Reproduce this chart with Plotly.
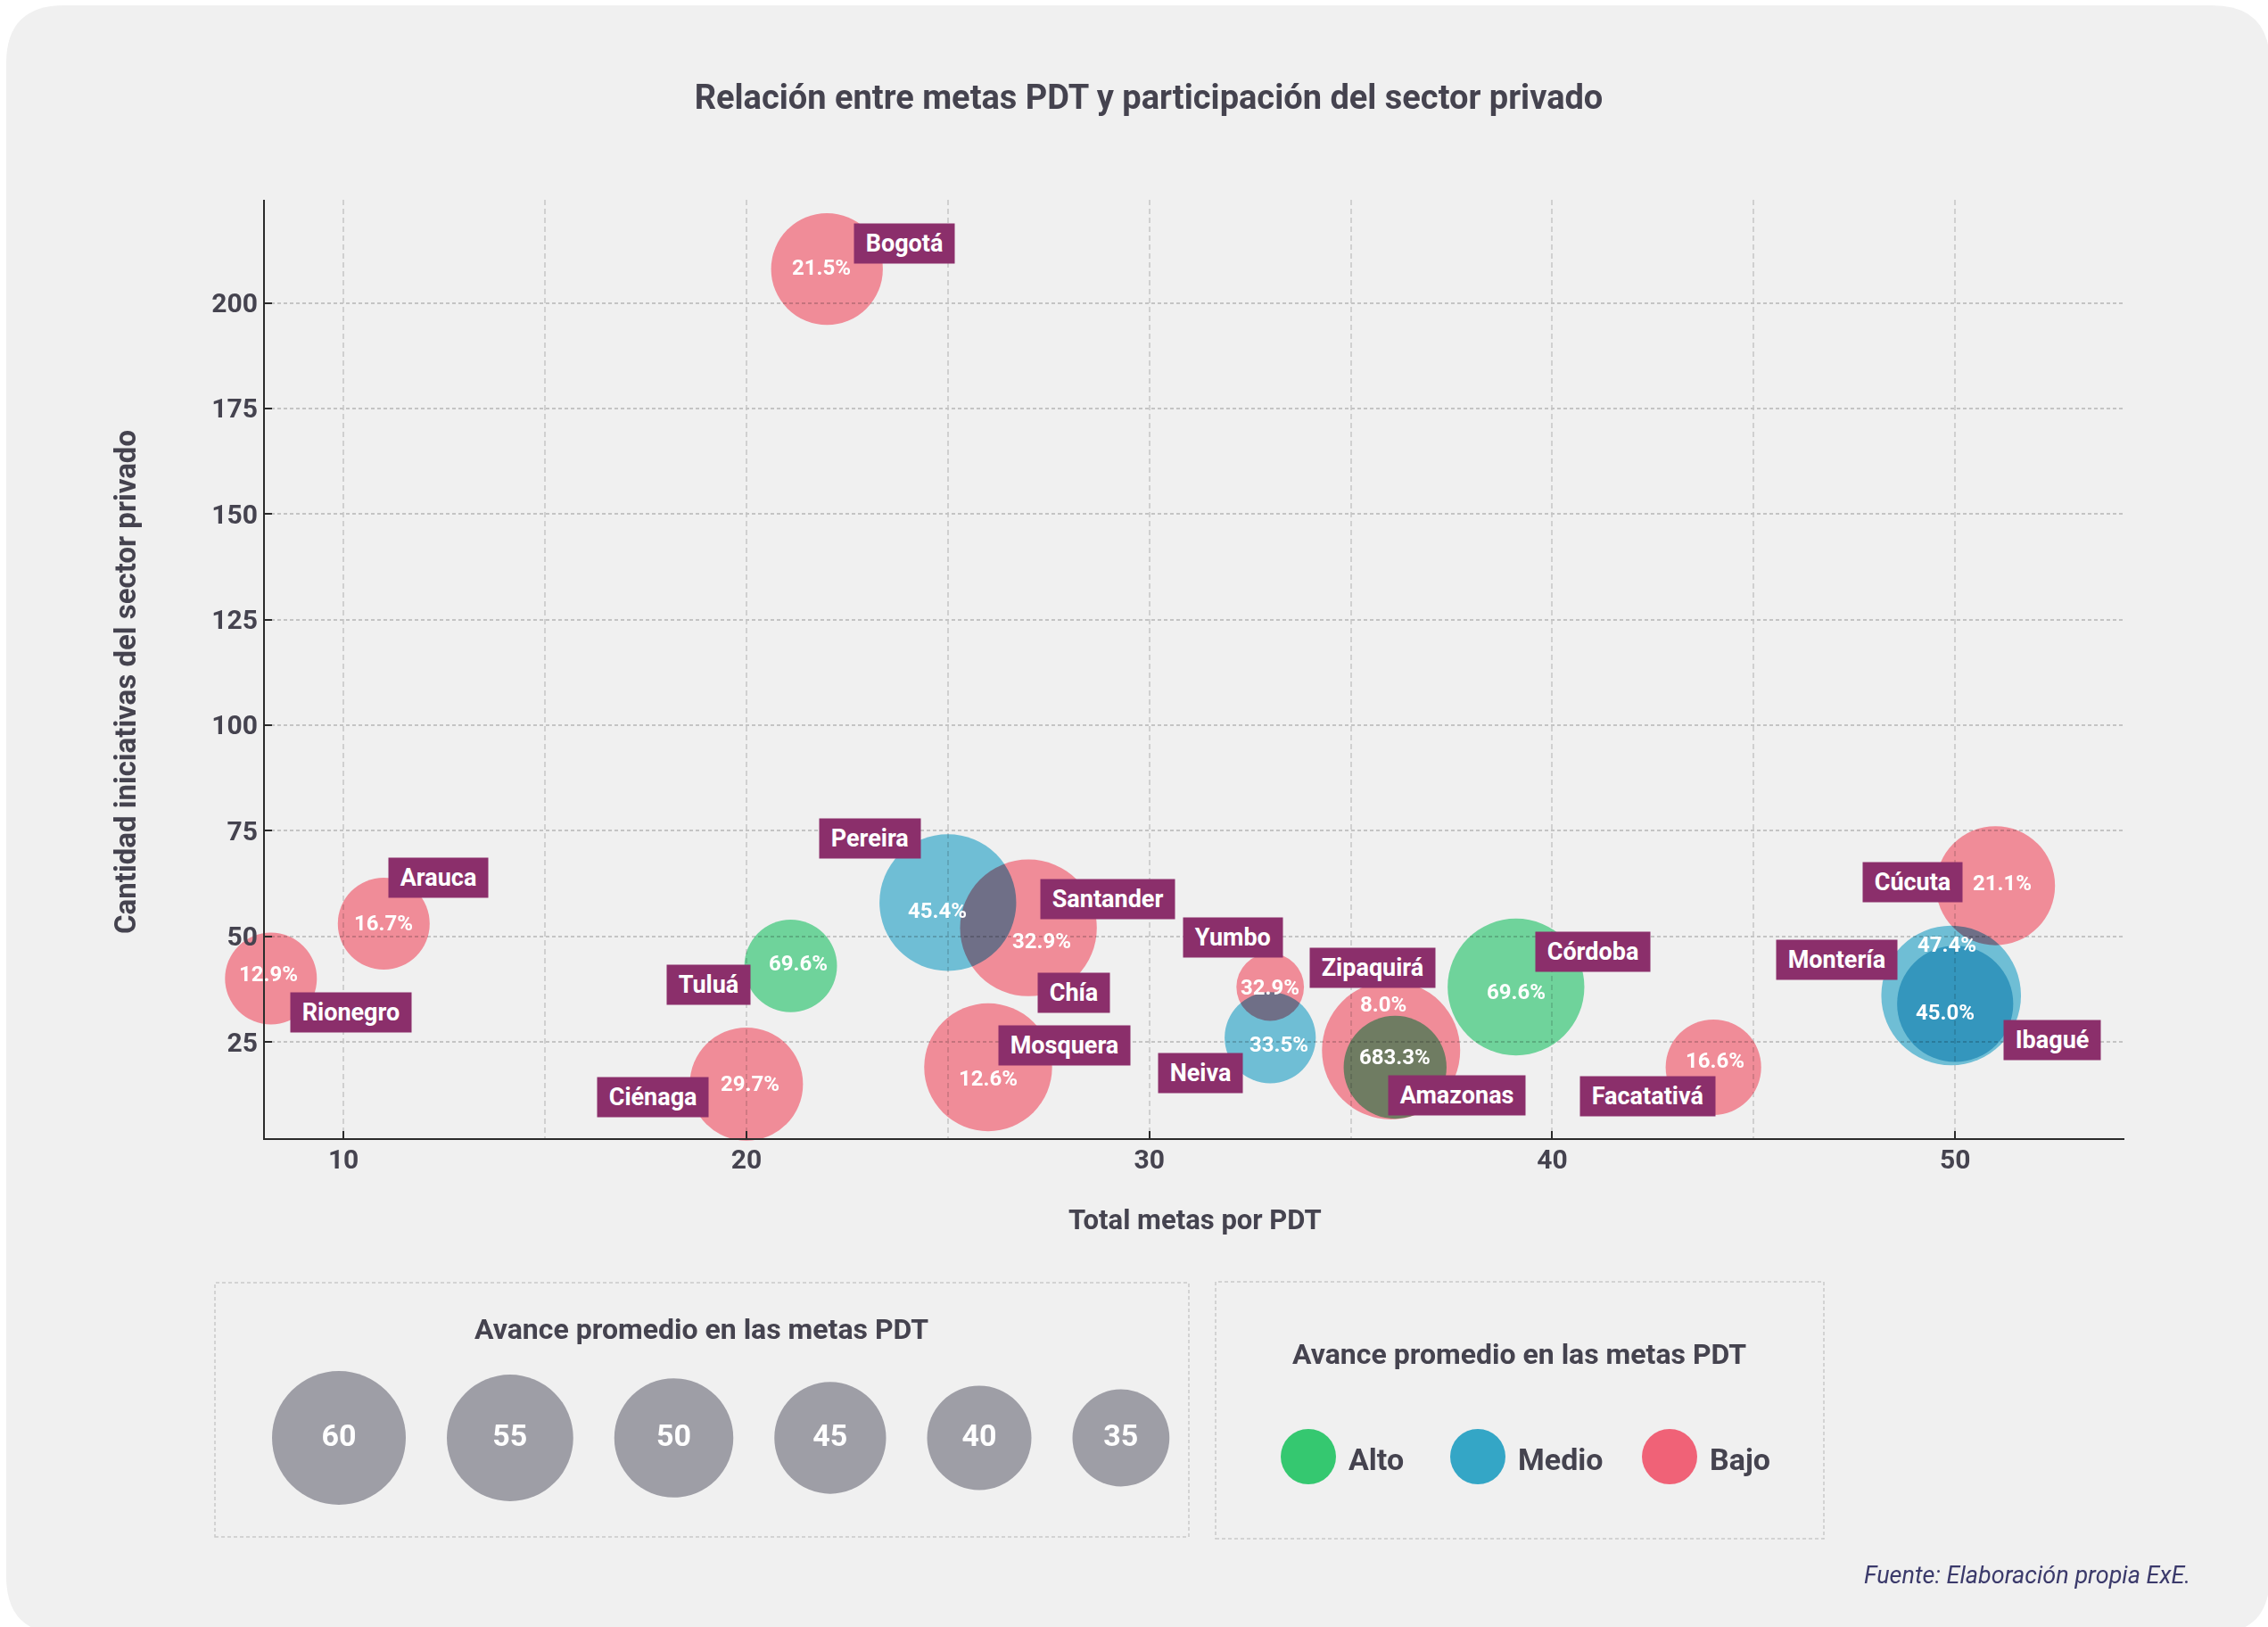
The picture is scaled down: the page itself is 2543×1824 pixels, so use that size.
import plotly.graph_objects as go

W, H = 2543, 1824

# ---------------- data ----------------
ciudades = ["Bogotá", "Arauca", "Rionegro", "Tuluá", "Ciénaga", "Pereira", "Santander", "Chía",
            "Mosquera", "Yumbo", "Neiva", "Zipaquirá", "Amazonas", "Córdoba", "Facatativá",
            "Cúcuta", "Montería", "Ibagué"]
total_metas = [22, 11, 8.2, 21.1, 20, 25, 27, 27, 26, 33, 33, 36, 36.1, 39.1, 44, 51, 49.9, 50]
iniciativas_privado = [208, 53, 40, 43, 15, 58, 52, 52, 19, 38, 26, 23, 19, 38, 19, 62, 36, 34]
porcentaje = [21.5, 16.7, 12.9, 69.6, 29.7, 45.4, 32.9, 32.9, 12.6, 32.9, 33.5, 8.0, 683.3,
              69.6, 16.6, 21.1, 47.4, 45.0]
nivel = ["Bajo", "Bajo", "Bajo", "Alto", "Bajo", "Medio", "Bajo", "Bajo", "Bajo", "Bajo",
         "Medio", "Bajo", "Alto", "Alto", "Bajo", "Bajo", "Medio", "Medio"]
avance_promedio = [45, 31.5, 31.5, 32, 46, 62, 62, 62, 56, 15, 31, 63, 39, 62, 34, 50, 64, 48]

leyenda_avance = [60, 55, 50, 45, 40, 35]
leyenda_niveles = ["Alto", "Medio", "Bajo"]

titulo = "Relación entre metas PDT y participación del sector privado"
titulo_x = "Total metas por PDT"
titulo_y = "Cantidad iniciativas del sector privado"
titulo_leyenda = "Avance promedio en las metas PDT"
fuente = "Fuente: Elaboración propia ExE."

# ---------------- styles / layout ----------------
FONT = "Roboto, Liberation Sans, sans-serif"
TXT = "#45434F"
CARD = "#F0F0F0"
LABEL_BG = "#8B2F6B"
SWATCH = {"Alto": "#35C870", "Medio": "#34A6C6", "Bajo": "#F06277"}
BUBBLE = {"Alto": "rgb(118,225,165)", "Medio": "rgb(118,202,227)", "Bajo": "rgb(255,149,162)"}
LEGEND_GRAY = "#9E9EA6"

PLOT_L, PLOT_R, PLOT_T, PLOT_B = 297, 2382, 224, 1276
X_RANGE = [8.05, 54.2]
Y_RANGE = [2.2, 224.4]


def diam(v):
    return 51 + 1.65 * v


def fx(px):
    return px / W


def fy(py):
    return 1 - py / H


# label offsets (screen px: right, down) relative to bubble centre
LABEL_OFF = {"Bogotá": (87, -29), "Arauca": (61, -51), "Rionegro": (90, 38), "Tuluá": (-92, 21),
             "Ciénaga": (-105, 15), "Pereira": (-87, -72), "Santander": (89, -32), "Chía": (51, 73),
             "Mosquera": (86, -24), "Yumbo": (-42, -56), "Neiva": (-78, 40), "Zipaquirá": (-21, -93),
             "Amazonas": (69, 32), "Córdoba": (86, -40), "Facatativá": (-74, 33), "Cúcuta": (-93, -4),
             "Montería": (-128, -40), "Ibagué": (109, 41)}
PCT_OFF = {"Bogotá": (-6, -2), "Arauca": (0, 0), "Rionegro": (-3, -5), "Tuluá": (8, -3),
           "Ciénaga": (4, 0), "Pereira": (-12, 9), "Santander": (15, 15), "Mosquera": (0, 13),
           "Yumbo": (0, 0), "Neiva": (10, 8), "Zipaquirá": (-9, -52), "Amazonas": (0, -11),
           "Córdoba": (0, 5), "Facatativá": (2, -7), "Cúcuta": (8, -3), "Montería": (-5, -57),
           "Ibagué": (-11, 10)}

# bubbles at identical coordinates are drawn once
seen, idx = set(), []
for i, (xv, yv) in enumerate(zip(total_metas, iniciativas_privado)):
    if (xv, yv) in seen:
        continue
    seen.add((xv, yv))
    idx.append(i)

fig = go.Figure()

fig.add_trace(go.Scatter(
    x=[total_metas[i] for i in idx],
    y=[iniciativas_privado[i] for i in idx],
    mode="markers",
    marker=dict(size=[diam(avance_promedio[i]) for i in idx], sizemode="diameter",
                color=[BUBBLE[nivel[i]] for i in idx], line=dict(width=0), opacity=1),
    cliponaxis=False, hoverinfo="skip", showlegend=False,
))

# size legend
LEG1_LEFT, LEG1_GAP, LEG1_Y = 305, 46, 1612
sizes = [diam(v) for v in leyenda_avance]
xs = []
for k, s in enumerate(sizes):
    if k == 0:
        xs.append(LEG1_LEFT + s / 2)
    else:
        xs.append(xs[-1] + sizes[k - 1] / 2 + LEG1_GAP + s / 2)
fig.add_trace(go.Scatter(
    x=xs, y=[LEG1_Y] * len(xs), xaxis="x2", yaxis="y2", mode="markers+text",
    text=[str(v) for v in leyenda_avance], textposition="middle center",
    textfont=dict(family=FONT, size=34, color="white", weight="bold"),
    marker=dict(size=sizes, sizemode="diameter", color=LEGEND_GRAY, line=dict(width=0), opacity=1),
    cliponaxis=False, hoverinfo="skip", showlegend=False,
))

# colour legend
LEG2_X, LEG2_Y, LEG2_D = [1467, 1657, 1872], 1633, 62
fig.add_trace(go.Scatter(
    x=LEG2_X, y=[LEG2_Y] * 3, xaxis="x2", yaxis="y2", mode="markers",
    marker=dict(size=LEG2_D, color=[SWATCH[n] for n in leyenda_niveles], line=dict(width=0),
                opacity=1),
    cliponaxis=False, hoverinfo="skip", showlegend=False,
))

ann = []
for i in idx:
    dx, dy = PCT_OFF.get(ciudades[i], (0, 0))
    ann.append(dict(x=total_metas[i], y=iniciativas_privado[i], xref="x", yref="y",
                    text=f"{porcentaje[i]:.1f}%", showarrow=False, xshift=dx, yshift=-dy,
                    xanchor="center", yanchor="middle",
                    font=dict(family=FONT, size=24, color="white", weight="bold")))
for i, c in enumerate(ciudades):
    dx, dy = LABEL_OFF[c]
    ann.append(dict(x=total_metas[i], y=iniciativas_privado[i], xref="x", yref="y",
                    text="\u00a0" + c + "\u00a0", showarrow=False, xshift=dx, yshift=-dy,
                    xanchor="center", yanchor="middle", bgcolor=LABEL_BG, borderpad=6,
                    font=dict(family=FONT, size=27, color="white", weight="bold")))
for k, n in enumerate(leyenda_niveles):
    ann.append(dict(x=LEG2_X[k] + LEG2_D / 2 + 12, y=LEG2_Y + 3, xref="x2", yref="y2", text=n,
                    showarrow=False, xanchor="left", yanchor="middle",
                    font=dict(family=FONT, size=34, color=TXT, weight="bold")))
ann += [
    dict(x=fx(1340), y=fy(1367), xref="paper", yref="paper", text=titulo_x, showarrow=False,
         xanchor="center", yanchor="middle",
         font=dict(family=FONT, size=31, color=TXT, weight="bold")),
    dict(x=fx(141), y=fy(765), xref="paper", yref="paper", text=titulo_y, showarrow=False,
         xanchor="center", yanchor="middle", textangle=-90,
         font=dict(family=FONT, size=33, color=TXT, weight="bold")),
    dict(x=fx(787), y=fy(1490), xref="paper", yref="paper", text=titulo_leyenda, showarrow=False,
         xanchor="center", yanchor="middle",
         font=dict(family=FONT, size=32, color=TXT, weight="bold")),
    dict(x=fx(1703), y=fy(1518), xref="paper", yref="paper", text=titulo_leyenda, showarrow=False,
         xanchor="center", yanchor="middle",
         font=dict(family=FONT, size=32, color=TXT, weight="bold")),
    dict(x=fx(2458), y=fy(1766), xref="paper", yref="paper", text=fuente, showarrow=False,
         xanchor="right", yanchor="middle",
         font=dict(family=FONT, size=27, color="#3B3A6B", style="italic")),
]

# card with rounded corners
x0, y0, x1, y1, r = 7, 6, 2545, 1832, 65
pts = lambda a, b: f"{fx(a):.5f},{fy(b):.5f}"
card_path = (f"M {pts(x0 + r, y0)} L {pts(x1 - r, y0)} Q {pts(x1, y0)} {pts(x1, y0 + r)} "
             f"L {pts(x1, y1 - r)} Q {pts(x1, y1)} {pts(x1 - r, y1)} L {pts(x0 + r, y1)} "
             f"Q {pts(x0, y1)} {pts(x0, y1 - r)} L {pts(x0, y0 + r)} Q {pts(x0, y0)} {pts(x0 + r, y0)} Z")
shapes = [dict(type="path", xref="paper", yref="paper", path=card_path, fillcolor=CARD,
               line=dict(width=0), layer="below")]
for bx0, by0, bx1, by1 in [(241, 1438, 1333, 1723), (1363, 1437, 2045, 1725)]:
    shapes.append(dict(type="rect", xref="paper", yref="paper", x0=fx(bx0), x1=fx(bx1),
                       y0=fy(by1), y1=fy(by0), line=dict(color="#C9C9C9", width=1.5, dash="4px,3px"),
                       fillcolor="rgba(0,0,0,0)", layer="below"))

axis_common = dict(showline=True, linecolor="#2B2B2B", linewidth=2, ticks="inside", ticklen=8,
                   tickwidth=2, tickcolor="#2B2B2B", zeroline=False, fixedrange=True,
                   tickfont=dict(family=FONT, size=30, color=TXT, weight="bold"))

fig.update_layout(
    width=W, height=H, margin=dict(l=0, r=0, t=0, b=0),
    paper_bgcolor="white", plot_bgcolor="rgba(0,0,0,0)",
    hovermode=False, showlegend=False,
    title=dict(text=titulo, x=fx(1288), y=fy(109), xref="paper", yref="paper",
               xanchor="center", yanchor="middle",
               font=dict(family=FONT, size=38, color=TXT, weight="bold")),
    xaxis=dict(domain=[fx(PLOT_L), fx(PLOT_R)], range=X_RANGE, anchor="y", tick0=0, dtick=10,
               showgrid=True, gridcolor="#D0D0D0", gridwidth=1.5, griddash="6px,4px",
               minor=dict(dtick=5, tick0=0, showgrid=True, gridcolor="#D0D0D0", gridwidth=1.5,
                          griddash="6px,4px", ticks=""),
               ticklabelstandoff=-4,
               **axis_common),
    yaxis=dict(domain=[fy(PLOT_B), fy(PLOT_T)], range=Y_RANGE, anchor="x", tick0=0, dtick=25,
               showgrid=True, gridcolor="#C4C4C4", gridwidth=1.5, griddash="4px,3px",
               **axis_common),
    xaxis2=dict(domain=[0, 1], range=[0, W], anchor="y2", visible=False, fixedrange=True),
    yaxis2=dict(domain=[0, 1], range=[H, 0], anchor="x2", visible=False, fixedrange=True),
    annotations=ann, shapes=shapes,
)

post = """
document.body.style.margin = '0';
var gd = document.getElementById('{plot_id}');
gd.querySelectorAll('.subplot.xy .scatterlayer path.point').forEach(function(p){
  p.style.mixBlendMode = 'multiply';
});
"""

fig.write_html("out.html", post_script=post, config={"displayModeBar": False})
